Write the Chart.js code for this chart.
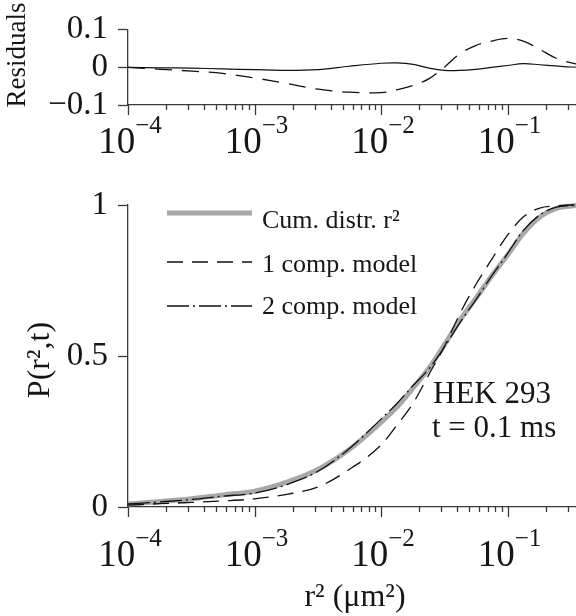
<!DOCTYPE html>
<html>
<head>
<meta charset="utf-8">
<script src="https://cdn.jsdelivr.net/npm/chart.js@4.4.0/dist/chart.umd.min.js"></script>
<style>
  html, body { margin: 0; padding: 0; background: #fff; overflow: hidden; width: 576px; height: 616px; }
  canvas { position: absolute; left: 0; top: 0; }
</style>
</head>
<body>
<canvas id="residChart" width="700" height="616"></canvas>
<canvas id="cumChart" width="700" height="616"></canvas>
<script>
// r^2 sample points (um^2)
const r2 = [1e-4, 1.8e-4, 3.2e-4, 5.6e-4, 1e-3, 1.8e-3, 3.2e-3, 5.6e-3, 0.01, 0.0133, 0.018, 0.024,
            0.032, 0.042, 0.056, 0.075, 0.1, 0.133, 0.18, 0.24, 0.32, 0.42, 0.56, 0.75, 1.0];

// cumulative distribution and the two fits
const cumDistr = [0.01, 0.018, 0.027, 0.04, 0.052, 0.082, 0.125, 0.19, 0.28, 0.33, 0.395, 0.46,
                  0.54, 0.618, 0.69, 0.765, 0.834, 0.905, 0.96, 0.988, 0.997, 1, 1, 1, 1];
const model1 = [0.006, 0.011, 0.015, 0.02, 0.027, 0.042, 0.067, 0.124, 0.205, 0.27, 0.345, 0.44,
                0.535, 0.64, 0.735, 0.82, 0.9, 0.96, 0.99, 0.997, 1, 1, 1, 1, 1];
const model2 = [0.01, 0.017, 0.025, 0.036, 0.046, 0.074, 0.119, 0.193, 0.291, 0.342, 0.403, 0.458,
                0.532, 0.61, 0.685, 0.765, 0.839, 0.915, 0.967, 0.992, 0.998, 1, 1, 1, 1];

// residuals (model - data)
const resid1 = [0, -0.005, -0.01, -0.016, -0.028, -0.043, -0.058, -0.066, -0.067, -0.06, -0.048, -0.03,
                0.002, 0.036, 0.058, 0.07, 0.077, 0.07, 0.048, 0.025, 0.012, 0.005, 0.002, 0.001, 0];
const resid2 = [0, -0.001, -0.002, -0.004, -0.006, -0.008, -0.006, 0.003, 0.011, 0.012, 0.008, -0.002,
                -0.008, -0.008, -0.005, 0, 0.005, 0.01, 0.007, 0.004, 0.001, 0, 0, 0, 0];

// ticks
const residTicks = [-0.1, 0, 0.1];
const residTickLabels = ['\u22120.1', '0', '0.1'];
const probTicks = [0, 0.5, 1];
const probTickLabels = ['0', '0.5', '1'];
const decades = [1e-4, 1e-3, 1e-2, 1e-1];
const decadeExps = ['\u22124', '\u22123', '\u22122', '\u22121'];
const legendLabels = ['Cum. distr. r\u00b2', '1 comp. model', '2 comp. model'];

const SERIF = '"Liberation Serif", "DejaVu Serif", serif';
const INK = '#161616';
const AXIS = '#3a3a3a';

const pts = ys => r2.map((x, i) => ({ x: x, y: ys[i] }));

// log axis: long ticks on decades, short ones between, labels 10^n
function logAxisPlugin(labelOffset) {
  return {
    id: 'logAxis',
    afterDraw(chart) {
      const ctx = chart.ctx;
      const xs = chart.scales.x;
      const y0 = chart.chartArea.bottom;
      ctx.save();
      ctx.strokeStyle = AXIS;
      ctx.lineWidth = 1.3;
      decades.forEach(d => {
        for (let k = 1; k <= 9; k++) {
          const x = Math.round(xs.getPixelForValue(d * k)) + 0.5;
          ctx.beginPath();
          ctx.moveTo(x, y0);
          ctx.lineTo(x, y0 + (k === 1 ? 10 : 5));
          ctx.stroke();
        }
      });
      ctx.fillStyle = INK;
      ctx.textAlign = 'left';
      ctx.textBaseline = 'alphabetic';
      decades.forEach((d, i) => {
        const x = xs.getPixelForValue(d);
        ctx.font = '37px ' + SERIF;
        const wBase = ctx.measureText('10').width;
        ctx.font = '25px ' + SERIF;
        const wExp = ctx.measureText(decadeExps[i]).width;
        const left = x - (wBase + wExp) / 2 + 2;
        ctx.font = '37px ' + SERIF;
        ctx.fillText('10', left, y0 + labelOffset);
        ctx.font = '25px ' + SERIF;
        ctx.fillText(decadeExps[i], left + wBase, y0 + labelOffset - 20);
      });
      ctx.restore();
    }
  };
}

function yTitlePlugin(text, x, y, size) {
  return {
    id: 'yTitle',
    afterDraw(chart) {
      const ctx = chart.ctx;
      ctx.save();
      ctx.translate(x, y);
      ctx.rotate(-Math.PI / 2);
      ctx.font = size + 'px ' + SERIF;
      ctx.fillStyle = INK;
      ctx.textAlign = 'center';
      ctx.textBaseline = 'middle';
      ctx.fillText(text, 0, 0);
      ctx.restore();
    }
  };
}

const legendPlugin = {
  id: 'lineLegend',
  afterDraw(chart) {
    const ctx = chart.ctx;
    const left = chart.chartArea.left + 39;
    const top = chart.chartArea.top;
    const lineY = [8, 57, 101];
    const textY = [23, 67, 109];
    ctx.save();
    chart.data.datasets.forEach((ds, i) => {
      ctx.strokeStyle = ds.borderColor;
      ctx.lineWidth = ds.borderWidth;
      ctx.setLineDash(ds.borderDash || []);
      ctx.beginPath();
      ctx.moveTo(left, top + lineY[i]);
      ctx.lineTo(left + 85, top + lineY[i]);
      ctx.stroke();
      ctx.setLineDash([]);
      ctx.font = '26px ' + SERIF;
      ctx.fillStyle = INK;
      ctx.textAlign = 'left';
      ctx.textBaseline = 'alphabetic';
      ctx.fillText(legendLabels[i], left + 95, top + textY[i]);
    });
    // annotation and x title
    ctx.font = '31px ' + SERIF;
    ctx.fillText('HEK 293', 433, 403);
    ctx.fillText('t = 0.1 ms', 432, 437);
    ctx.font = '32px ' + SERIF;
    ctx.textAlign = 'center';
    ctx.fillText('r\u00b2 (\u03bcm\u00b2)', 355, 606);
    ctx.restore();
  }
};

function yScale(min, max, ticks, labels) {
  return {
    min: min, max: max,
    afterFit(s) { s.width = 128; },
    afterBuildTicks(s) { s.ticks = ticks.map(v => ({ value: v })); },
    ticks: {
      autoSkip: false,
      callback: (v, i) => labels[i],
      font: { family: SERIF, size: 33 },
      color: INK,
      padding: 10
    },
    grid: { display: true, drawOnChartArea: false, drawTicks: true, tickLength: 10, tickColor: AXIS, tickWidth: 1.3 },
    border: { display: true, color: AXIS, width: 1.3 }
  };
}

const xScale = {
  type: 'logarithmic', min: 1e-4, max: 1,
  afterFit(s) { s.height = 0; },
  ticks: { display: false },
  grid: { display: false },
  border: { display: true, color: AXIS, width: 1.3 }
};

new Chart(document.getElementById('residChart'), {
  type: 'line',
  data: {
    datasets: [
      { label: '1 comp. model', data: pts(resid1), borderColor: '#111', borderWidth: 1.3,
        borderDash: [17, 10], pointRadius: 0, tension: 0.35, fill: false },
      { label: '2 comp. model', data: pts(resid2), borderColor: '#111', borderWidth: 1.2,
        pointRadius: 0, tension: 0.35, fill: false }
    ]
  },
  options: {
    responsive: false,
    animation: false,
    layout: { padding: { left: 0, top: 29, right: 66, bottom: 511 } },
    scales: { x: xScale, y: yScale(-0.1, 0.1, residTicks, residTickLabels) },
    plugins: { legend: { display: false }, tooltip: { enabled: false } }
  },
  plugins: [logAxisPlugin(48), yTitlePlugin('Residuals', 18, 55, 27)]
});

new Chart(document.getElementById('cumChart'), {
  type: 'line',
  data: {
    datasets: [
      { label: legendLabels[0], data: pts(cumDistr), borderColor: '#a8a8a8', borderWidth: 5,
        pointRadius: 0, cubicInterpolationMode: 'monotone', fill: false, order: 3, clip: false },
      { label: legendLabels[1], data: pts(model1), borderColor: '#111', borderWidth: 1.3,
        borderDash: [16, 9], pointRadius: 0, cubicInterpolationMode: 'monotone', fill: false, order: 2, clip: false },
      { label: legendLabels[2], data: pts(model2), borderColor: '#111', borderWidth: 1.3,
        borderDash: [22, 4, 2, 4], pointRadius: 0, cubicInterpolationMode: 'monotone', fill: false, order: 1, clip: false }
    ]
  },
  options: {
    responsive: false,
    animation: false,
    layout: { padding: { left: 0, top: 205, right: 66, bottom: 109 } },
    scales: { x: xScale, y: yScale(0, 1, probTicks, probTickLabels) },
    plugins: { legend: { display: false }, tooltip: { enabled: false } }
  },
  plugins: [logAxisPlugin(59), yTitlePlugin('P(r\u00b2,t)', 41, 360, 32), legendPlugin]
});
</script>
</body>
</html>
